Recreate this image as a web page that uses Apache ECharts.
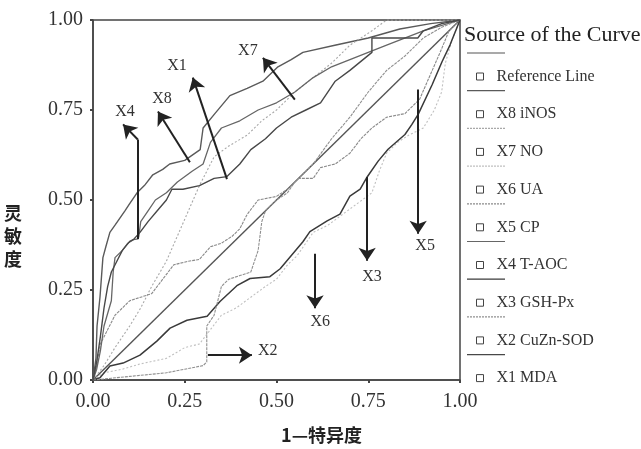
<!DOCTYPE html>
<html><head><meta charset="utf-8">
<script src="https://cdn.jsdelivr.net/npm/echarts@6/dist/echarts.min.js"></script>
<style>html,body{margin:0;padding:0;background:#fff}#c{width:641px;height:449px}</style>
</head><body><div id="c"></div>
<script>
// ---- data (1 - specificity, sensitivity) ----
const refLine = [[0,0],[1,1]];
const X8 = [[0,0],[0.008,0.06],[0.011,0.15],[0.019,0.23],[0.027,0.34],[0.035,0.37],[0.046,0.41],[0.06,0.43],[0.087,0.47],[0.1,0.49],[0.12,0.52],[0.14,0.54],[0.163,0.57],[0.19,0.585],[0.209,0.6],[0.25,0.61],[0.292,0.64],[0.3,0.7],[0.332,0.74],[0.373,0.79],[0.42,0.81],[0.463,0.83],[0.504,0.87],[0.54,0.89],[0.572,0.91],[0.659,0.93],[0.75,0.95],[0.836,0.975],[0.92,0.99],[1,1]];
const X7 = [[0,0],[0.03,0.04],[0.06,0.09],[0.1,0.15],[0.13,0.2],[0.16,0.26],[0.2,0.33],[0.23,0.4],[0.26,0.47],[0.29,0.54],[0.33,0.62],[0.37,0.65],[0.42,0.68],[0.46,0.72],[0.5,0.75],[0.55,0.8],[0.6,0.84],[0.65,0.88],[0.7,0.93],[0.76,0.97],[0.8,1],[1,1]];
const X6 = [[0,0],[0.03,0.02],[0.08,0.03],[0.13,0.045],[0.2,0.06],[0.25,0.09],[0.29,0.1],[0.32,0.14],[0.35,0.18],[0.39,0.2],[0.43,0.23],[0.47,0.26],[0.5,0.28],[0.53,0.32],[0.556,0.345],[0.6,0.41],[0.64,0.43],[0.68,0.46],[0.72,0.49],[0.76,0.52],[0.78,0.58],[0.8,0.63],[0.83,0.66],[0.86,0.68],[0.9,0.7],[0.93,0.75],[0.95,0.8],[0.96,0.88],[0.98,0.95],[1,1]];
const X5 = [[0,0],[0.01,0.04],[0.02,0.1],[0.04,0.14],[0.06,0.18],[0.08,0.2],[0.1,0.22],[0.13,0.23],[0.16,0.24],[0.19,0.28],[0.22,0.32],[0.26,0.33],[0.29,0.335],[0.32,0.37],[0.35,0.38],[0.38,0.4],[0.4,0.42],[0.42,0.46],[0.45,0.5],[0.5,0.51],[0.53,0.53],[0.56,0.56],[0.6,0.56],[0.62,0.59],[0.66,0.6],[0.7,0.63],[0.73,0.67],[0.76,0.7],[0.8,0.73],[0.85,0.74],[0.89,0.78],[0.92,0.85],[0.95,0.92],[0.97,0.97],[1,1]];
const X4 = [[0,0],[0.01,0.03],[0.02,0.08],[0.03,0.15],[0.05,0.22],[0.055,0.3],[0.06,0.34],[0.08,0.36],[0.095,0.38],[0.11,0.39],[0.123,0.392],[0.125,0.4],[0.13,0.44],[0.15,0.47],[0.17,0.5],[0.2,0.52],[0.23,0.55],[0.27,0.58],[0.3,0.6],[0.32,0.66],[0.35,0.7],[0.4,0.72],[0.45,0.75],[0.5,0.77],[0.55,0.8],[0.6,0.84],[0.65,0.87],[0.7,0.89],[0.8,0.93],[0.9,0.97],[1,1]];
const X3 = [[0,0],[0.019,0.006],[0.046,0.039],[0.082,0.047],[0.128,0.069],[0.174,0.108],[0.21,0.144],[0.256,0.166],[0.311,0.177],[0.346,0.218],[0.392,0.262],[0.428,0.282],[0.482,0.287],[0.51,0.309],[0.572,0.384],[0.591,0.412],[0.638,0.442],[0.673,0.461],[0.7,0.511],[0.728,0.53],[0.747,0.564],[0.777,0.608],[0.804,0.641],[0.85,0.682],[0.869,0.71],[0.886,0.738],[0.924,0.82],[0.951,0.884],[0.973,0.931],[1,1]];
const X2 = [[0,0],[0.05,0.005],[0.1,0.01],[0.15,0.015],[0.2,0.02],[0.25,0.03],[0.3,0.04],[0.31,0.05],[0.31,0.15],[0.33,0.18],[0.35,0.26],[0.37,0.28],[0.4,0.29],[0.43,0.3],[0.45,0.36],[0.46,0.44],[0.47,0.47],[0.5,0.5],[0.53,0.52],[0.55,0.55],[0.6,0.6],[0.65,0.67],[0.7,0.73],[0.75,0.8],[0.8,0.86],[0.85,0.9],[0.9,0.95],[0.95,0.98],[1,1]];
const X1 = [[0,0],[0.01,0.05],[0.02,0.12],[0.03,0.2],[0.04,0.26],[0.05,0.3],[0.065,0.33],[0.08,0.36],[0.1,0.385],[0.11,0.39],[0.128,0.41],[0.15,0.44],[0.175,0.47],[0.2,0.5],[0.215,0.53],[0.245,0.53],[0.29,0.54],[0.33,0.56],[0.365,0.565],[0.4,0.6],[0.43,0.64],[0.47,0.67],[0.5,0.7],[0.54,0.73],[0.58,0.75],[0.62,0.77],[0.66,0.83],[0.7,0.86],[0.76,0.91],[0.76,0.95],[0.885,0.95],[0.9,0.97],[0.95,0.99],[1,1]];
const legendNames = ['Reference Line','X8 iNOS','X7 NO','X6 UA','X5 CP','X4 T-AOC','X3 GSH-Px','X2 CuZn-SOD','X1 MDA'];
// annotation arrows: [label, from, to, labelPos, hasHead]
const arrows = [
  ['X4', [0.122,0.392], [0.122,0.668], null, false],
  ['X4', [0.122,0.668], [0.082,0.71], [0.087,0.744], true],
  ['X8', [0.264,0.605], [0.177,0.746], [0.188,0.781], true],
  ['X1', [0.365,0.558], [0.272,0.84], [0.229,0.872], true],
  ['X7', [0.55,0.779], [0.463,0.895], [0.422,0.914], true],
  ['X6', [0.605,0.351], [0.605,0.199], [0.619,0.163], true],
  ['X3', [0.747,0.564], [0.747,0.331], [0.76,0.287], true],
  ['X5', [0.886,0.807], [0.886,0.406], [0.905,0.373], true],
  ['X2', [0.313,0.069], [0.433,0.069], [0.476,0.082], true]
];

const serif = '"Liberation Serif","DejaVu Serif",serif';
const styles = {
  'Reference Line': {color:'#555', width:1.4, type:'solid'},
  'X8 iNOS': {color:'#5a5a5a', width:1.4, type:'solid'},
  'X7 NO': {color:'#a8a8a8', width:1.1, type:[2,2]},
  'X6 UA': {color:'#c0c0c0', width:1.1, type:[2,2]},
  'X5 CP': {color:'#8a8a8a', width:1.1, type:[3,1]},
  'X4 T-AOC': {color:'#666', width:1.3, type:'solid'},
  'X3 GSH-Px': {color:'#3a3a3a', width:1.5, type:'solid'},
  'X2 CuZn-SOD': {color:'#909090', width:1.1, type:[3,1]},
  'X1 MDA': {color:'#484848', width:1.4, type:'solid'}
};
const seriesData = {
  'Reference Line': refLine, 'X8 iNOS': X8, 'X7 NO': X7, 'X6 UA': X6, 'X5 CP': X5,
  'X4 T-AOC': X4, 'X3 GSH-Px': X3, 'X2 CuZn-SOD': X2, 'X1 MDA': X1
};

const series = legendNames.map(n => ({
  name: n, type: 'line', data: seriesData[n], showSymbol: false, symbol: 'none',
  lineStyle: styles[n], itemStyle: {color: styles[n].color}, silent: true, z: 2, animation: false
}));
series[0].markLine = {
  silent: true, animation: false, symbol: ['none','arrow'], symbolSize: 12,
  lineStyle: {color:'#222', width:2, type:'solid'}, label: {show:false},
  data: arrows.map(a => [
    {coord: a[1], symbol: 'none', symbolSize: 0},
    {coord: a[2], symbol: a[4] ? 'arrow' : 'none', symbolSize: a[4] ? 13 : 0}
  ])
};
series[0].markPoint = {
  silent: true, animation: false, symbol: 'circle', symbolSize: 1, itemStyle: {color:'rgba(0,0,0,0)'},
  label: {show:true, position:'inside', formatter: p => p.name, color:'#333', fontFamily: serif, fontSize: 16},
  data: arrows.filter(a => a[3]).map(a => ({name: a[0], coord: a[3]}))
};

const chart = echarts.init(document.getElementById('c'), null, {renderer:'canvas'});
const legTop = 63, legStep = 37.7;
const graphics = legendNames.map((n, i) => ({
  type: 'line', shape: {x1: 467, y1: legTop + i*legStep - 10, x2: 505, y2: legTop + i*legStep - 10},
  style: {stroke: styles[n].color, lineWidth: 1.2, lineDash: styles[n].type === 'solid' ? null : [2,1]}
}));
graphics.push({
  type: 'text', left: 4, top: 202,
  style: {text: '灵\n敏\n度', font: 'bold 18px "Noto Sans CJK SC", sans-serif', fill: '#222', lineHeight: 23}
});
chart.setOption({
  animation: false,
  backgroundColor: '#fff',
  grid: {left: 93, right: 181, top: 20, bottom: 67, show: true, borderColor: '#444', borderWidth: 1.5},
  title: {text: 'Source of the Curve', left: 459, top: 19, textStyle: {fontFamily: serif, fontSize: 22, fontWeight: 'normal', color:'#222'}},
  legend: {
    data: legendNames, orient: 'vertical', left: 471, top: legTop, itemGap: legStep - 17,
    icon: 'rect', itemWidth: 7, itemHeight: 7,
    itemStyle: {color: '#fff', borderColor: '#444', borderWidth: 1},
    lineStyle: {width: 0},
    textStyle: {fontFamily: serif, fontSize: 16, color:'#333', lineHeight: 17, padding: [0,0,0,8]},
    selectedMode: false
  },
  graphic: graphics,
  xAxis: {
    type: 'value', min: 0, max: 1, interval: 0.25,
    name: '1—特异度', nameLocation: 'middle', nameGap: 46,
    nameTextStyle: {fontFamily: '"Noto Sans CJK SC",sans-serif', fontSize: 18, color:'#222', fontWeight:'bold', padding: [0,0,0,90]},
    axisLine: {show: true, lineStyle: {color:'#444', width: 1.5}},
    axisTick: {show: true, length: 3, lineStyle: {color:'#444', width: 2}},
    splitLine: {show: false},
    axisLabel: {formatter: v => v.toFixed(2), fontFamily: serif, fontSize: 20, color:'#333', margin: 12}
  },
  yAxis: {
    type: 'value', min: 0, max: 1, interval: 0.25,
    axisLine: {show: true, lineStyle: {color:'#444', width: 1.5}},
    axisTick: {show: true, length: 3, lineStyle: {color:'#444', width: 2}},
    splitLine: {show: false},
    axisLabel: {formatter: v => v.toFixed(2), fontFamily: serif, fontSize: 20, color:'#333', margin: 10}
  },
  series: series
});
</script></body></html>
